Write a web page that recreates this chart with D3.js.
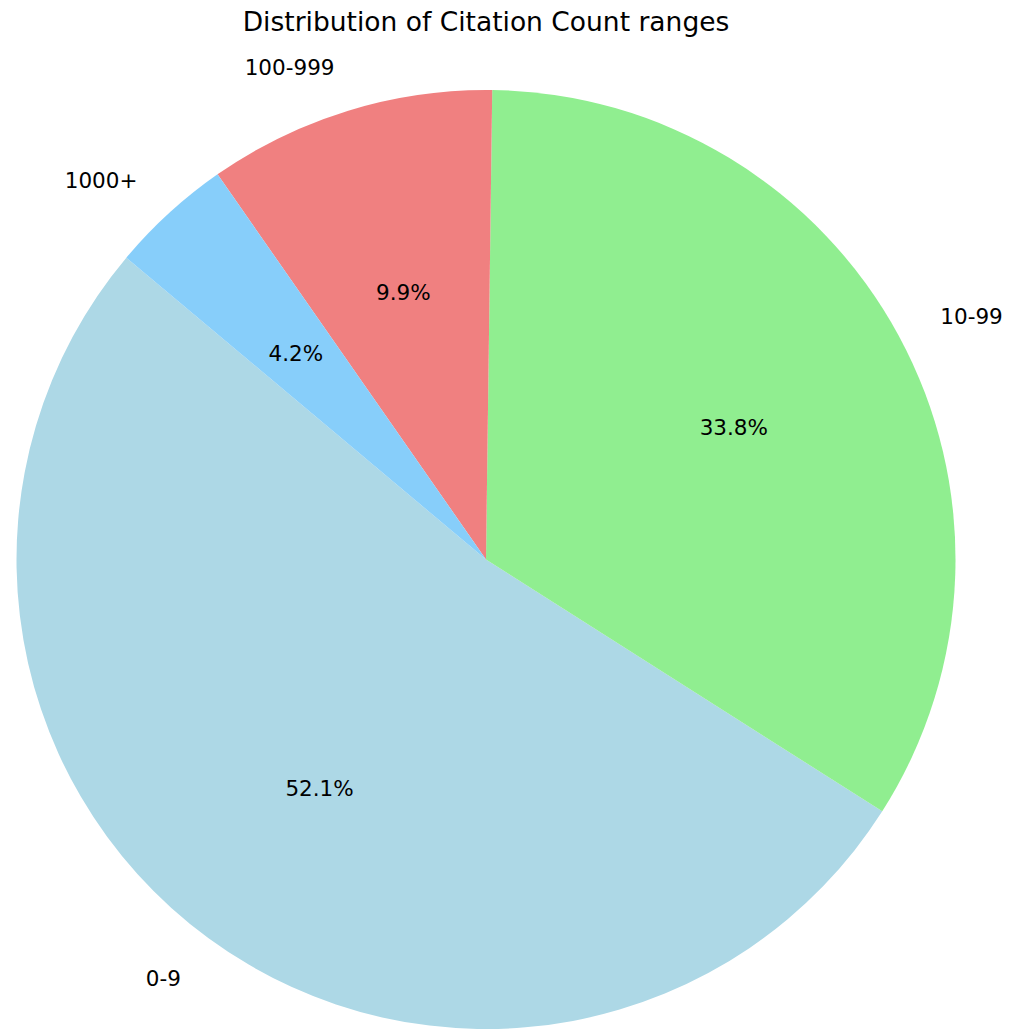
<!DOCTYPE html>
<html>
<head>
<meta charset="utf-8">
<script src="https://cdn.jsdelivr.net/npm/d3@7"></script>
<style>
  body { margin: 0; background: #ffffff; }
  svg text { font-family: "DejaVu Sans", sans-serif; fill: #000000; }
</style>
</head>
<body>
<div id="chart"></div>
<script>
// Citation count ranges and their shares (percent)
const categories = ['0-9', '10-99', '100-999', '1000+'];
const shares = [52.1, 33.8, 9.9, 4.2];
const colors = ['#add8e6', '#90ee90', '#f08080', '#87cefa'];

const width = 1011, height = 1031;
const cx = 486, cy = 559.5, radius = 469.5;

const svg = d3.select('#chart')
  .append('svg')
  .attr('width', width)
  .attr('height', height);

svg.append('text')
  .attr('x', cx)
  .attr('y', 31)
  .attr('text-anchor', 'middle')
  .style('font-size', '26.5px')
  .text('Distribution of Citation Count ranges');

const g = svg.append('g').attr('transform', `translate(${cx},${cy})`);

// start at 140 deg (counter-clockwise from +x), going counter-clockwise
const start = (90 - 140) * Math.PI / 180;
const pie = d3.pie()
  .sort(null)
  .value(d => d.value)
  .startAngle(start)
  .endAngle(start - 2 * Math.PI);

const data = categories.map((c, i) => ({ label: c, value: shares[i], color: colors[i] }));
const arcs = pie(data);

const arc = d3.arc().innerRadius(0).outerRadius(radius);

g.selectAll('path')
  .data(arcs)
  .enter()
  .append('path')
  .attr('d', arc)
  .attr('fill', d => d.data.color);

const pos = (a, r) => [Math.sin(a) * r, -Math.cos(a) * r];

// outer labels
g.selectAll('text.label')
  .data(arcs)
  .enter()
  .append('text')
  .attr('class', 'label')
  .each(function(d) {
    const mid = (d.startAngle + d.endAngle) / 2;
    const [x, y] = pos(mid, radius * 1.1);
    d3.select(this)
      .attr('x', x)
      .attr('y', y)
      .attr('dy', '0.45em')
      .attr('text-anchor', x > 0 ? 'start' : 'end');
  })
  .style('font-size', '21.5px')
  .text(d => d.data.label);

// percentage labels
g.selectAll('text.pct')
  .data(arcs)
  .enter()
  .append('text')
  .attr('class', 'pct')
  .each(function(d) {
    const mid = (d.startAngle + d.endAngle) / 2;
    const [x, y] = pos(mid, radius * 0.6);
    d3.select(this)
      .attr('x', x)
      .attr('y', y)
      .attr('dy', '0.45em')
      .attr('text-anchor', 'middle');
  })
  .style('font-size', '21.5px')
  .text(d => d.data.value.toFixed(1) + '%');
</script>
</body>
</html>
